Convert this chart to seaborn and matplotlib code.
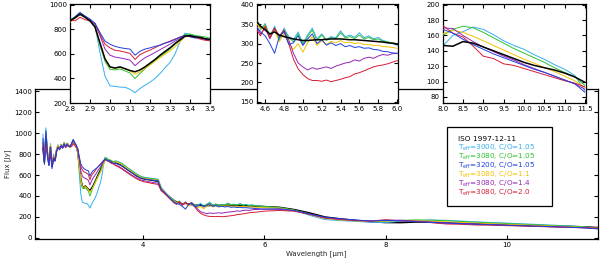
import matplotlib
matplotlib.use('Agg')
import matplotlib.pyplot as plt
import numpy as np
import seaborn as sns
from matplotlib.patches import Rectangle

# Wavelength grid (micron), split in segments
wl_a = [2.35, 2.375, 2.4, 2.425, 2.45, 2.475, 2.5, 2.525, 2.55, 2.575, 2.6, 2.625,
        2.65, 2.675, 2.7, 2.725, 2.75, 2.775]
wl_b = [2.8, 2.825, 2.85, 2.875, 2.9, 2.925, 2.95, 2.975, 3.0, 3.025, 3.05, 3.075,
        3.1, 3.125, 3.15, 3.175, 3.2, 3.225, 3.25, 3.275, 3.3, 3.325, 3.35, 3.375,
        3.4, 3.425, 3.45, 3.475, 3.5]
wl_c = [3.55, 3.6, 3.65, 3.7, 3.75, 3.8, 3.85, 3.9, 3.95, 4.0, 4.05, 4.1, 4.15, 4.2,
        4.25, 4.3, 4.35, 4.4, 4.45]
wl_d = [4.5, 4.55, 4.6, 4.65, 4.7, 4.75, 4.8, 4.85, 4.9, 4.95, 5.0, 5.05, 5.1, 5.15,
        5.2, 5.25, 5.3, 5.35, 5.4, 5.45, 5.5, 5.55, 5.6, 5.65, 5.7, 5.75, 5.8, 5.85,
        5.9, 5.95, 6.0]
wl_e = [6.25, 6.5, 6.75, 7.0, 7.25, 7.5, 7.75]
wl_f = [8.0, 8.25, 8.5, 8.75, 9.0, 9.25, 9.5, 9.75, 10.0, 10.25, 10.5, 10.75, 11.0,
        11.25, 11.5]
wavelength = wl_a + wl_b + wl_c + wl_d + wl_e + wl_f

# Flux [Jy] per spectrum, same segments
flux_iso = [860, 720, 980, 800, 700, 870, 680, 760, 740, 830, 870, 850, 880, 860, 900, 870, 900, 880,
            870, 895, 925, 900, 870, 820, 690, 560, 495, 485, 495, 480, 465, 455, 470, 495, 525, 555,
            590, 620, 650, 685, 715, 745, 750, 740, 735, 725, 720,
            715, 705, 690, 670, 650, 630, 610, 590, 575, 565, 560, 555, 550, 545, 540, 470, 440, 410, 385,
            360, 345, 335, 325, 330, 322, 318, 315, 312, 310, 308, 308, 309, 310, 310, 311, 312, 312,
            312, 311, 310, 310, 309, 308, 307, 306, 305, 304, 302, 301, 299,
            292, 270, 238, 200, 182, 167, 155,
            147, 146, 152, 150, 145, 140, 135, 130, 125, 121, 118, 115, 111, 106, 99]
flux_3000_105 = [990, 780, 1050, 840, 690, 900, 690, 800, 750, 850, 890, 850, 895, 870, 915, 875, 905, 885,
                 880, 900, 935, 905, 880, 830, 610, 420, 340, 335, 330, 328, 312, 285, 318, 345, 370, 400,
                 440, 488, 530, 600, 700, 770, 760, 745, 735, 722, 712,
                 735, 725, 712, 690, 668, 650, 628, 610, 592, 582, 575, 572, 568, 565, 560, 480, 445, 415, 385,
                 370, 335, 352, 318, 345, 310, 340, 318, 310, 330, 300, 322, 340, 312, 325, 310, 318, 315,
                 333, 318, 322, 316, 328, 315, 320, 312, 316, 308, 305, 300, 296,
                 288, 262, 215, 175, 165, 158, 150,
                 146, 160, 165, 171, 168, 161, 153, 147, 142, 135, 129, 122, 116, 108, 88]
flux_3080_105 = [920, 740, 1000, 820, 710, 880, 700, 770, 760, 840, 880, 860, 890, 870, 905, 880, 900, 885,
                 875, 900, 930, 905, 875, 825, 670, 540, 475, 470, 478, 462, 445, 400, 440, 480, 515, 548,
                 580, 610, 640, 680, 720, 760, 762, 752, 745, 740, 730,
                 732, 722, 708, 688, 665, 645, 625, 605, 588, 578, 572, 568, 564, 560, 556, 478, 442, 412, 382,
                 365, 340, 348, 320, 340, 312, 335, 315, 305, 325, 298, 318, 335, 308, 322, 308, 316, 312,
                 328, 315, 318, 313, 322, 312, 316, 310, 312, 306, 304, 302, 300,
                 290, 266, 228, 190, 174, 164, 158,
                 160, 168, 172, 170, 164, 157, 150, 143, 137, 131, 125, 118, 112, 106, 95]
flux_3200_105 = [950, 700, 1020, 780, 690, 860, 660, 750, 730, 820, 860, 840, 880, 855, 895, 865, 895, 870,
                 870, 905, 940, 910, 885, 850, 775, 705, 680, 662, 652, 645, 640, 590, 622, 640, 650, 662,
                 672, 688, 700, 718, 738, 752, 742, 730, 738, 722, 715,
                 712, 700, 688, 668, 648, 628, 608, 590, 574, 566, 560, 556, 552, 548, 545, 465, 438, 405, 378,
                 345, 330, 320, 300, 275, 318, 332, 298, 302, 320, 295, 312, 325, 300, 310, 296, 302, 295,
                 300, 292, 295, 290, 292, 288, 289, 285, 284, 280, 279, 276, 275,
                 278, 262, 228, 198, 184, 172, 162,
                 168, 163, 155, 148, 142, 136, 131, 126, 121, 116, 112, 107, 102, 97, 86]
flux_3080_11 = [900, 750, 990, 830, 720, 885, 710, 775, 765, 845, 885, 855, 885, 875, 910, 878, 902, 882,
                860, 890, 920, 900, 870, 820, 680, 555, 490, 485, 490, 478, 462, 435, 455, 485, 510, 540,
                570, 598, 625, 660, 700, 740, 745, 738, 730, 722, 715,
                725, 715, 700, 680, 658, 638, 618, 598, 582, 572, 566, 562, 557, 553, 548, 472, 440, 410, 380,
                355, 338, 342, 315, 335, 305, 325, 300, 285, 300, 278, 302, 318, 295, 308, 298, 306, 302,
                308, 302, 304, 300, 302, 298, 298, 295, 296, 292, 292, 290, 288,
                284, 262, 222, 185, 172, 163, 157,
                162, 167, 164, 159, 153, 147, 141, 135, 129, 124, 118, 113, 107, 101, 92]
flux_3080_14 = [910, 720, 990, 800, 700, 870, 690, 770, 750, 830, 870, 850, 880, 865, 900, 870, 895, 875,
                870, 895, 925, 905, 880, 845, 750, 640, 590, 575, 568, 560, 550, 505, 540, 570, 590, 612,
                635, 658, 680, 705, 728, 748, 742, 735, 730, 720, 712,
                695, 682, 665, 645, 625, 605, 588, 570, 556, 548, 542, 536, 530, 526, 522, 455, 430, 400, 372,
                350, 325, 340, 312, 338, 318, 330, 310, 275, 250, 240, 232, 238, 234, 237, 240, 236, 242,
                246, 250, 252, 258, 255, 262, 265, 262, 268, 272, 270, 274, 275,
                272, 258, 225, 190, 176, 166, 160,
                170, 169, 160, 152, 145, 139, 133, 128, 122, 117, 112, 107, 102, 97, 90]
flux_3080_20 = [880, 730, 960, 810, 700, 860, 690, 760, 760, 830, 860, 845, 870, 860, 890, 860, 885, 870,
                880, 870, 900, 880, 870, 850, 760, 680, 650, 630, 625, 615, 605, 555, 595, 615, 632, 652,
                672, 690, 705, 722, 738, 752, 740, 738, 722, 712, 708,
                690, 675, 658, 638, 618, 598, 580, 562, 548, 538, 532, 526, 520, 515, 510, 450, 425, 398, 370,
                340, 320, 345, 315, 340, 320, 335, 300, 260, 235, 220, 210, 205, 205, 203, 206, 202, 205,
                208, 212, 215, 222, 225, 230, 235, 240, 243, 245, 248, 252, 256,
                262, 255, 225, 192, 178, 168, 162,
                173, 163, 158, 146, 133, 130, 123, 121, 117, 113, 109, 105, 101, 98, 93]

model_labels = [r'T$_{\rm eff}$=3000, C/O=1.05', r'T$_{\rm eff}$=3080, C/O=1.05',
                r'T$_{\rm eff}$=3200, C/O=1.05', r'T$_{\rm eff}$=3080, C/O=1.1',
                r'T$_{\rm eff}$=3080, C/O=1.4', r'T$_{\rm eff}$=3080, C/O=2.0']
model_flux = [flux_3000_105, flux_3080_105, flux_3200_105, flux_3080_11, flux_3080_14, flux_3080_20]
model_colors = ['#35aef0', '#2fc22f', '#1f3fdc', '#f2c200', '#9426b8', '#d41c34']

sns.set_style('ticks')
plt.rcParams['font.family'] = ['DejaVu Sans']
plt.rcParams['mathtext.fontset'] = 'dejavusans'

fig = plt.figure(figsize=(6, 2.62), dpi=100)
ax = fig.add_axes([35 / 600, 23 / 262, 563 / 600, 150 / 262])
in1 = fig.add_axes([70 / 600, 159 / 262, 140 / 600, 99 / 262])
in2 = fig.add_axes([256.7 / 600, 159 / 262, 141.3 / 600, 99 / 262])
in3 = fig.add_axes([442.7 / 600, 159 / 262, 143 / 600, 99 / 262])

# draw order: models in order (blue last), ISO below in main panel, on top in insets
draw_order = [0, 1, 3, 4, 5, 2]


def draw_spectra(a, iso_on_top):
    sns.lineplot(x=wavelength, y=flux_iso, ax=a, color='black', lw=1.1, sort=False,
                 estimator=None, legend=False, zorder=10 if iso_on_top else 1)
    for k, i in enumerate(draw_order):
        sns.lineplot(x=wavelength, y=model_flux[i], ax=a, color=model_colors[i], lw=0.7,
                     sort=False, estimator=None, legend=False, zorder=2 + k)


for a in [ax, in1, in2, in3]:
    draw_spectra(a, a is not ax)
    a.tick_params(direction='in', length=3, width=0.8, top=True, right=True,
                  labelsize=5, pad=2, colors='black')
    for s in a.spines.values():
        s.set_linewidth(0.9)
        s.set_color('black')
    a.set_xlabel('')
    a.set_ylabel('')

# Main panel
ax.set_xlim(2.22, 11.5)
ax.set_ylim(-10, 1420)
ax.set_xticks([4, 6, 8, 10])
ax.set_yticks(np.arange(0, 1401, 200))
ax.set_xlabel('Wavelength [µm]', fontsize=5, labelpad=1.5)
ax.set_ylabel('Flux [Jy]', fontsize=5, labelpad=2)

# Insets
in1.set_xlim(2.8, 3.5)
in1.set_ylim(200, 1008)
in1.set_xticks(np.arange(2.8, 3.51, 0.1))
in1.set_yticks(np.arange(200, 1001, 200))

in2.set_xlim(4.51, 6.01)
in2.set_ylim(147, 402)
in2.set_xticks(np.arange(4.6, 6.01, 0.2))
in2.set_yticks(np.arange(150, 401, 50))

in3.set_xlim(8.0, 11.52)
in3.set_ylim(72, 201)
in3.set_xticks(np.arange(8.0, 11.51, 0.5))
in3.set_yticks(np.arange(80, 201, 20))

for a in [in1, in2, in3]:
    a.set_xticklabels([f'{t:.1f}' for t in a.get_xticks()])

# Legend box
ax.add_patch(Rectangle((0.731, 0.22), 0.187, 0.529, transform=ax.transAxes,
                       facecolor='white', edgecolor='black', lw=0.9, zorder=20))
ax.text(0.751, 0.665, 'ISO 1997-12-11', transform=ax.transAxes, fontsize=5.3,
        color='black', va='center', ha='left', zorder=21)
for i, lab in enumerate(model_labels):
    ax.text(0.751, 0.605 - i * 0.059, lab, transform=ax.transAxes, fontsize=5.2,
            color=model_colors[i], va='center', ha='left', zorder=21)

fig.savefig('out.png', dpi=100)
